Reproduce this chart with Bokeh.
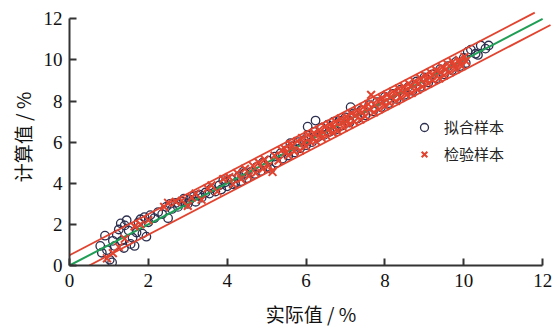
from bokeh.plotting import figure
from bokeh.models import Range1d, Legend, LegendItem, FixedTicker
from bokeh.embed import file_html
from bokeh.resources import INLINE

# 拟合样本 (fitting samples): actual vs. calculated, %
fit_actual = [
    0.78, 0.82, 0.90, 0.95, 1.02, 1.08, 1.10, 1.15, 1.20, 1.25, 1.30, 1.32, 1.38, 1.40,
    1.45, 1.50, 1.55, 1.60, 1.65, 1.70, 1.75, 1.80, 1.85, 1.90, 1.95, 2.00, 2.05, 2.15,
    2.25, 2.35, 2.45, 2.50, 2.55, 2.60, 2.70, 2.75, 2.85, 2.90, 3.00, 3.05, 3.15, 3.20,
    3.30, 3.35, 3.45, 3.55, 3.60, 3.70, 3.80, 3.85, 3.95, 4.00, 4.10, 4.15, 4.20, 4.30,
    4.35, 4.45, 4.50, 4.60, 4.70, 4.75, 4.85, 4.90, 5.00, 5.05, 5.10, 5.20, 5.25, 5.35,
    5.40, 5.50, 5.55, 5.65, 5.70, 5.80, 5.85, 5.95, 6.00, 6.04, 6.05, 6.15, 6.20, 6.24,
    6.30, 6.40, 6.45, 6.55, 6.60, 6.70, 6.75, 6.85, 6.90, 7.00, 7.10, 7.13, 7.20, 7.30,
    7.40, 7.50, 7.60, 7.70, 7.80, 7.90, 8.00, 8.10, 8.20, 8.30, 8.40, 8.50, 8.60, 8.70,
    8.80, 8.90, 9.00, 9.10, 9.20, 9.30, 9.40, 9.50, 9.60, 9.70, 9.80, 9.90, 10.00, 10.05,
    10.10, 10.18, 10.30, 10.36, 10.43, 10.55, 10.63, 5.60, 4.40, 3.90, 3.25, 2.95,
]
fit_calc = [
    0.95, 0.62, 1.45, 0.75, 0.28, 0.15, 1.20, 0.95, 1.50, 1.75, 2.05, 1.20, 0.85, 1.95,
    2.20, 1.70, 1.05, 1.35, 0.95, 1.60, 2.10, 2.25, 1.55, 2.35, 1.40, 2.10, 2.45, 2.30,
    2.60, 2.50, 2.85, 2.30, 3.00, 2.75, 3.05, 2.85, 3.10, 3.25, 3.00, 3.20, 3.35, 3.10,
    3.45, 3.30, 3.55, 3.50, 3.75, 3.60, 3.90, 3.70, 4.05, 3.85, 4.20, 3.95, 4.00, 4.35,
    4.10, 4.50, 4.25, 4.55, 4.45, 4.80, 4.60, 5.00, 4.80, 5.10, 4.70, 5.30, 5.00, 5.45,
    5.20, 5.60, 5.35, 5.80, 5.50, 6.00, 5.70, 6.10, 5.85, 6.75, 6.30, 6.00, 6.50, 7.05,
    6.25, 6.70, 6.35, 6.85, 6.50, 7.00, 6.60, 7.05, 6.80, 7.20, 6.95, 7.70, 7.40, 7.15,
    7.55, 7.30, 7.80, 7.50, 7.95, 7.70, 8.20, 7.90, 8.35, 8.10, 8.55, 8.30, 8.70, 8.50,
    8.95, 8.70, 9.15, 8.90, 9.30, 9.10, 9.55, 9.30, 9.70, 9.50, 9.90, 9.70, 10.10, 9.85,
    10.40, 10.50, 10.30, 10.24, 10.70, 10.55, 10.70, 5.95, 4.55, 4.15, 3.40, 3.05,
]

# 检验样本 (test samples): actual vs. calculated, %
test_actual = [
    0.95, 1.10, 1.25, 1.40, 1.65, 1.80, 2.00, 2.40, 2.50, 2.70, 2.85, 3.00, 3.10, 3.20,
    3.35, 3.50, 3.60, 3.75, 3.90, 4.05, 4.15,
    4.25, 4.35, 4.45, 4.55, 4.65, 4.72, 4.80, 4.90, 4.95, 5.05, 5.15, 5.20, 5.30, 5.38,
    5.45, 5.50, 5.55, 5.60, 5.65, 5.70, 5.78, 5.85, 5.90, 5.95, 6.00, 6.05, 6.12, 6.15,
    6.20, 6.25, 6.33, 6.35, 6.40, 6.48, 6.52, 6.55, 6.60, 6.68, 6.72, 6.75, 6.80, 6.88,
    6.90, 6.95, 7.02, 7.05, 7.10, 7.15, 7.22, 7.25, 7.30, 7.38, 7.42, 7.45, 7.50, 7.58,
    7.60, 7.65, 7.72, 7.75, 7.80, 7.85, 7.92, 7.95, 8.00, 8.05, 8.12, 8.15, 8.20, 8.28,
    8.32, 8.35, 8.40, 8.48, 8.50, 8.55, 8.60, 8.65, 8.68, 8.75, 8.82, 8.85, 8.90, 8.95,
    9.02, 9.05, 9.10, 9.15, 9.20, 9.22, 9.30, 9.38, 9.40, 9.45, 9.50, 9.55, 9.58, 9.65,
    9.72, 9.75, 9.80, 9.88, 9.90, 9.95, 10.02, 10.05,
]
test_calc = [
    0.35, 0.60, 0.90, 1.30, 1.90, 2.00, 2.20, 2.85, 3.05, 3.10, 3.15, 2.90, 3.30, 3.50,
    3.20, 3.75, 3.90, 3.60, 4.20, 4.30, 3.95,
    4.50, 4.20, 4.70, 4.35, 4.85, 4.50, 5.00, 4.70, 5.15, 4.85, 4.55, 5.35, 5.10, 5.60,
    5.70, 5.50, 5.35, 5.90, 5.85, 5.55, 6.05, 5.60, 6.20, 5.95, 5.80, 6.35, 6.00, 6.20,
    6.45, 6.05, 6.60, 6.40, 6.20, 6.75, 6.30, 6.60, 6.85, 6.45, 6.75, 7.00, 6.55, 7.15,
    6.95, 6.70, 7.25, 7.05, 6.85, 7.40, 7.00, 7.30, 7.55, 7.10, 7.45, 7.70, 7.25, 7.85,
    7.60, 8.30, 7.45, 7.80, 8.05, 7.60, 8.15, 7.95, 7.75, 8.30, 7.90, 8.20, 8.45, 8.00,
    8.35, 8.60, 8.15, 8.70, 8.50, 8.30, 8.85, 8.70, 8.40, 8.95, 8.55, 8.85, 9.10, 8.70,
    9.25, 9.05, 8.85, 9.40, 9.25, 9.00, 9.50, 9.10, 9.40, 9.65, 9.25, 9.55, 9.80, 9.40,
    9.90, 9.75, 9.55, 10.00, 9.85, 9.70, 10.15, 9.95,
]

# reference line y = x and the ±0.5 band limits
ideal_x = [0.0, 12.0]
upper_x = [0.0, 11.8]
lower_x = [0.5, 12.2]
band = 0.5

axis_ticks = [0, 2, 4, 6, 8, 10, 12]

p = figure(width=559, height=329, output_backend="svg", toolbar_location=None,
           x_range=Range1d(0, 12.25), y_range=Range1d(0, 12.5),
           min_border_left=69, min_border_right=7, min_border_top=8, min_border_bottom=62)
p.outline_line_color = None
p.grid.visible = False
p.background_fill_color = "white"
p.border_fill_color = "white"

c_fit = p.scatter(fit_actual, fit_calc, marker="circle", size=8.5, fill_color=None,
                  line_color="#2c2f4f", line_width=1.3)
p.line(ideal_x, [v for v in ideal_x], line_color="#1f9e55", line_width=2)
p.line(upper_x, [v + band for v in upper_x], line_color="#e2432f", line_width=1.8)
p.line(lower_x, [v - band for v in lower_x], line_color="#e2432f", line_width=1.8)
c_test = p.scatter(test_actual, test_calc, marker="x", size=11, line_color="#e2432f",
                   line_width=2)

legend = Legend(items=[LegendItem(label="拟合样本", renderers=[c_fit]),
                       LegendItem(label="检验样本", renderers=[c_test])],
                location=(345, 101), padding=0, margin=0, spacing=6,
                glyph_width=20, glyph_height=20, label_height=20, label_standoff=10,
                label_text_font="Noto Sans CJK SC", label_text_font_size="15px",
                label_text_color="#222222",
                background_fill_alpha=0, border_line_alpha=0)
p.add_layout(legend)

for ax in (p.xaxis[0], p.yaxis[0]):
    ax.ticker = FixedTicker(ticks=axis_ticks)
    ax.bounds = (0, 12)
    ax.axis_line_color = "#333333"
    ax.axis_line_width = 2
    ax.major_tick_line_color = "#333333"
    ax.major_tick_line_width = 2
    ax.major_tick_in = 7
    ax.major_tick_out = 0
    ax.minor_tick_line_color = None
    ax.major_label_text_font = "Liberation Serif"
    ax.major_label_text_font_size = "19px"
    ax.major_label_text_color = "#111111"
    ax.axis_label_text_font = "Noto Sans CJK SC"
    ax.axis_label_text_font_size = "19px"
    ax.axis_label_text_font_style = "normal"
    ax.axis_label_text_color = "#111111"

p.xaxis.axis_label = "实际值 / %"
p.yaxis.axis_label = "计算值 / %"
p.xaxis.major_label_standoff = 8
p.yaxis.major_label_standoff = 7
p.xaxis.axis_label_standoff = 10
p.yaxis.axis_label_standoff = 5

open("out.html", "w").write(file_html(p, INLINE))
